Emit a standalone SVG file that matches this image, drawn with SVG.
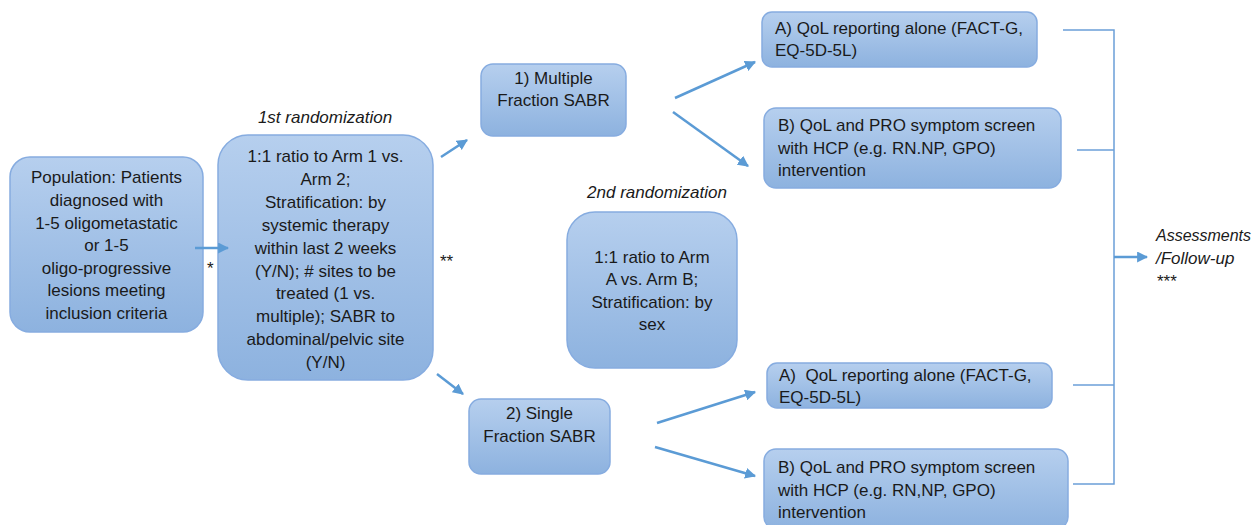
<svg xmlns="http://www.w3.org/2000/svg" width="1255" height="525" viewBox="0 0 1255 525">
<defs>
<linearGradient id="g" x1="0" y1="0" x2="0" y2="1">
<stop offset="0" stop-color="#b6cfee"/>
<stop offset="1" stop-color="#8db2df"/>
</linearGradient>
<marker id="ah" viewBox="0 0 10 10" refX="9" refY="5" markerWidth="4.4" markerHeight="4.4" orient="auto" markerUnits="strokeWidth">
<path d="M0,0 L10,5 L0,10 z" fill="#5b9bd5"/>
</marker>
<style>
.box{fill:url(#g);stroke:#86ace0;stroke-width:1.5}
.t{font-family:"Liberation Sans",Arial,sans-serif;font-size:17px;fill:#1a1a1a}
.c{text-anchor:middle}
.i{font-style:italic}
.arr{stroke:#5b9bd5;stroke-width:2.5;fill:none;marker-end:url(#ah)}
.br{stroke:#6b9fd8;stroke-width:1.5;fill:none}
</style>
</defs>
<rect width="1255" height="525" fill="#ffffff"/>

<g id="label-1st">
<text class="t c i" x="325" y="123">1st randomization</text>
</g>
<g id="label-2nd">
<text class="t c i" x="657" y="198">2nd randomization</text>
</g>

<g id="population">
<rect class="box" x="10" y="157" width="193" height="175" rx="20"/>
<text class="t c" x="106.5" y="183">Population: Patients</text>
<text class="t c" x="106.5" y="206">diagnosed with</text>
<text class="t c" x="106.5" y="229">1-5 oligometastatic</text>
<text class="t c" x="106.5" y="251">or 1-5</text>
<text class="t c" x="106.5" y="274">oligo-progressive</text>
<text class="t c" x="106.5" y="296">lesions meeting</text>
<text class="t c" x="106.5" y="319">inclusion criteria</text>
</g>

<g id="rand1">
<rect class="box" x="218" y="135" width="215" height="245" rx="30"/>
<text class="t c" x="325.5" y="162">1:1 ratio to Arm 1 vs.</text>
<text class="t c" x="325.5" y="185">Arm 2;</text>
<text class="t c" x="325.5" y="208">Stratification: by</text>
<text class="t c" x="325.5" y="231">systemic therapy</text>
<text class="t c" x="325.5" y="254">within last 2 weeks</text>
<text class="t c" x="325.5" y="277">(Y/N); # sites to be</text>
<text class="t c" x="325.5" y="299">treated (1 vs.</text>
<text class="t c" x="325.5" y="322">multiple); SABR to</text>
<text class="t c" x="325.5" y="345">abdominal/pelvic site</text>
<text class="t c" x="325.5" y="368">(Y/N)</text>
</g>

<g id="multiple">
<rect class="box" x="481" y="64" width="145" height="72" rx="12"/>
<text class="t c" x="553.5" y="84">1) Multiple</text>
<text class="t c" x="553.5" y="106">Fraction SABR</text>
</g>

<g id="single">
<rect class="box" x="469" y="399" width="141" height="75" rx="12"/>
<text class="t c" x="539.5" y="419">2) Single</text>
<text class="t c" x="539.5" y="442">Fraction SABR</text>
</g>

<g id="rand2">
<rect class="box" x="567" y="212" width="170" height="156" rx="28"/>
<text class="t c" x="652" y="263">1:1 ratio to Arm</text>
<text class="t c" x="652" y="285">A vs. Arm B;</text>
<text class="t c" x="652" y="308">Stratification: by</text>
<text class="t c" x="652" y="330">sex</text>
</g>

<g id="top-a">
<rect class="box" x="762" y="12" width="275" height="55" rx="10"/>
<text class="t" x="775" y="34">A) QoL reporting alone (FACT-G,</text>
<text class="t" x="775" y="56">EQ-5D-5L)</text>
</g>

<g id="top-b">
<rect class="box" x="764" y="108" width="297" height="80" rx="12"/>
<text class="t" x="778" y="131">B) QoL and PRO symptom screen</text>
<text class="t" x="778" y="154">with HCP (e.g. RN.NP, GPO)</text>
<text class="t" x="778" y="176">intervention</text>
</g>

<g id="bottom-a">
<rect class="box" x="767" y="363" width="285" height="45" rx="10"/>
<text class="t" x="779" y="381" xml:space="preserve">A)  QoL reporting alone (FACT-G,</text>
<text class="t" x="779" y="403">EQ-5D-5L)</text>
</g>

<g id="bottom-b">
<rect class="box" x="764" y="449" width="304" height="80" rx="12"/>
<text class="t" x="778" y="473">B) QoL and PRO symptom screen</text>
<text class="t" x="778" y="496">with HCP (e.g. RN,NP, GPO)</text>
<text class="t" x="778" y="518">intervention</text>
</g>

<g id="assessments">
<text class="t i" x="1156" y="241" textLength="95" lengthAdjust="spacingAndGlyphs">Assessments</text>
<text class="t i" x="1156" y="264">/Follow-up</text>
<text class="t" x="1157" y="287">***</text>
</g>

<g id="connectors">
<line class="arr" x1="195" y1="248" x2="228" y2="248"/>
<line class="arr" x1="441" y1="157" x2="467" y2="140"/>
<line class="arr" x1="437" y1="374" x2="463" y2="394"/>
<line class="arr" x1="675" y1="98" x2="755" y2="62"/>
<line class="arr" x1="673" y1="112" x2="748" y2="166"/>
<line class="arr" x1="657" y1="423" x2="755" y2="392"/>
<line class="arr" x1="655" y1="447" x2="755" y2="476"/>
<polyline class="br" points="1063,30 1114,30 1114,484 1073,484"/>
<line class="br" x1="1077" y1="150" x2="1114" y2="150"/>
<line class="br" x1="1073" y1="385" x2="1114" y2="385"/>
<line class="arr" x1="1114" y1="257" x2="1147" y2="257"/>
<text class="t" x="207" y="274">*</text>
<text class="t" x="440" y="267">**</text>
</g>
</svg>
